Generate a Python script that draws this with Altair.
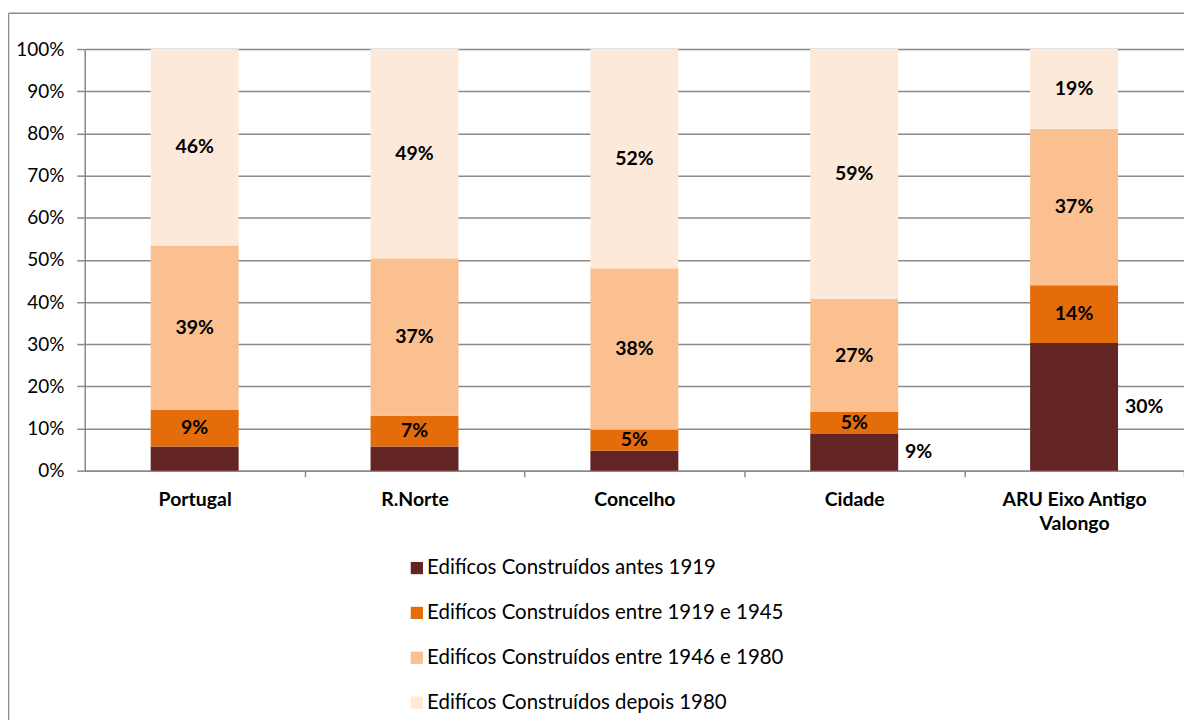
import altair as alt
import pandas as pd

categories = ["Portugal", "R.Norte", "Concelho", "Cidade", "ARU Eixo Antigo Valongo"]
series = [
    "Edifícos Construídos antes 1919",
    "Edifícos Construídos entre 1919 e 1945",
    "Edifícos Construídos entre 1946 e 1980",
    "Edifícos Construídos depois 1980",
]
colors = ["#632523", "#E46C0A", "#FAC090", "#FDE9D9"]

antes_1919 = [5.7, 5.7, 4.7, 8.7, 30.3]
entre_1919_1945 = [8.7, 7.3, 5.0, 5.2, 13.7]
entre_1946_1980 = [39.0, 37.4, 38.3, 26.8, 37.1]
depois_1980 = [46.6, 49.6, 52.0, 59.3, 18.9]

labels_antes = ["", "", "", "9%", "30%"]
labels_1919_1945 = ["9%", "7%", "5%", "5%", "14%"]
labels_1946_1980 = ["39%", "37%", "38%", "27%", "37%"]
labels_depois = ["46%", "49%", "52%", "59%", "19%"]

values = [antes_1919, entre_1919_1945, entre_1946_1980, depois_1980]
labels = [labels_antes, labels_1919_1945, labels_1946_1980, labels_depois]

rows = []
for si, s in enumerate(series):
    for ci, c in enumerate(categories):
        rows.append({
            "cat": c,
            "series": s,
            "order": si,
            "value": values[si][ci],
            "label": labels[si][ci],
            "pos": "out" if si == 0 else "in",
        })
df = pd.DataFrame(rows)

FONT = "Lato"
GRID = "#8a8a8a"

base = alt.Chart(df).transform_stack(
    stack="value", as_=["y0", "y1"], groupby=["cat"],
    sort=[alt.SortField("order", order="ascending")]
).transform_calculate(mid="(datum.y0 + datum.y1) / 2")

xenc = alt.X(
    "cat:N", sort=categories, title=None,
    scale=alt.Scale(paddingInner=0.6, paddingOuter=0.3),
    axis=alt.Axis(
        labelAngle=0, labelFontWeight="bold", labelFontSize=19.5, labelFont=FONT,
        labelColor="#000000", labelPadding=14, labelLineHeight=24,
        labelExpr="datum.value == 'ARU Eixo Antigo Valongo' ? ['ARU Eixo Antigo', 'Valongo'] : datum.value",
        tickOffset=110.5, labelOffset=-110.5, tickSize=6, tickColor=GRID,
        domainColor=GRID, domainWidth=1.5, tickWidth=1.5, grid=False,
    ),
)

bars = base.mark_bar().encode(
    x=xenc,
    y=alt.Y(
        "y0:Q", title=None,
        scale=alt.Scale(domain=[0, 100], nice=False),
        axis=alt.Axis(
            values=list(range(0, 101, 10)), labelExpr="datum.value + '%'",
            labelFontSize=19, labelFont=FONT, labelColor="#000000",
            labelPadding=13, tickSize=8, tickColor=GRID, tickWidth=1.5,
            domainColor=GRID, domainWidth=1.5, gridColor=GRID, gridWidth=1.5,
        ),
    ),
    y2="y1:Q",
    color=alt.Color(
        "series:N", sort=series,
        scale=alt.Scale(domain=series, range=colors),
        legend=alt.Legend(
            title=None, orient="none", legendX=323, legendY=510.5,
            direction="vertical", symbolType="square", symbolSize=150,
            symbolStrokeWidth=0, labelFontSize=20.5, labelFont=FONT,
            labelColor="#000000", rowPadding=24, labelOffset=0,
            labelLimit=700,
        ),
    ),
)

text_in = base.transform_filter("datum.pos == 'in'").mark_text(
    fontWeight="bold", fontSize=19.5, font=FONT, color="#000000"
).encode(x=alt.X("cat:N", sort=categories), y="mid:Q", text="label:N")

text_out = base.transform_filter("datum.pos == 'out' && datum.label != ''").mark_text(
    fontWeight="bold", fontSize=19.5, font=FONT, color="#000000", align="left", dx=51
).encode(x=alt.X("cat:N", sort=categories), y="mid:Q", text="label:N")

border_left = alt.Chart(pd.DataFrame({"a": [0]})).mark_rule(
    color="#8c8c8c", strokeWidth=1.5, clip=False
).encode(x=alt.value(-76.5), y=alt.value(-36), y2=alt.value(690))

border_top = alt.Chart(pd.DataFrame({"a": [0]})).mark_rule(
    color="#8c8c8c", strokeWidth=1.5, clip=False
).encode(x=alt.value(-76.5), x2=alt.value(1110), y=alt.value(-36))

chart = alt.layer(bars, text_in, text_out, border_left, border_top).properties(
    width=1103, height=423,
    padding={"left": 77, "top": 40, "right": 0, "bottom": 256},
    autosize=alt.AutoSizeParams(type="none"),
).configure_view(stroke=None).configure(font=FONT)

chart.save("out.html", embed_options={"renderer": "svg", "actions": False})
